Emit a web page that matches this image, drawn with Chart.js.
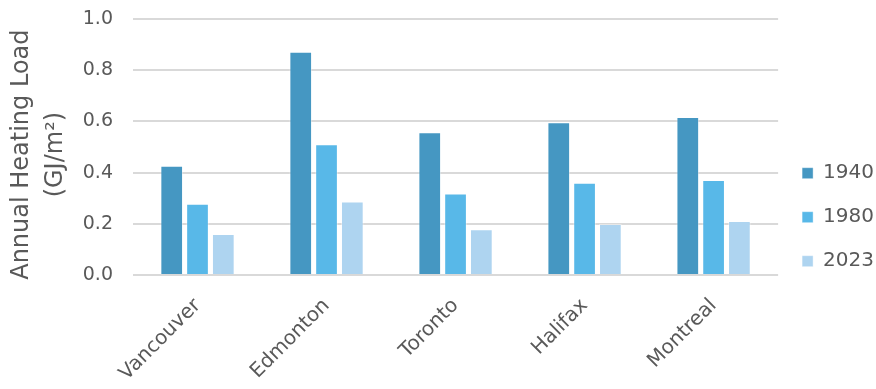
<!DOCTYPE html>
<html>
<head>
<meta charset="utf-8">
<script src="https://cdn.jsdelivr.net/npm/chart.js@4"></script>
<style>
  html, body { margin: 0; padding: 0; background: #fff; }
  #wrap { width: 876px; height: 389px; position: relative; }
</style>
</head>
<body>
<div id="wrap"><canvas id="c" width="876" height="389"></canvas></div>
<script>
const cities = ['Vancouver', 'Edmonton', 'Toronto', 'Halifax', 'Montreal'];
const years = ['1940', '1980', '2023'];
const load1940 = [0.427, 0.872, 0.558, 0.597, 0.617];
const load1980 = [0.278, 0.511, 0.318, 0.360, 0.371];
const load2023 = [0.160, 0.287, 0.179, 0.199, 0.211];
const yTicks = [0.0, 0.2, 0.4, 0.6, 0.8, 1.0];
const yTitle = ['Annual Heating Load', '(GJ/m²)'];

const colors = ['#4597C2', '#58B8E8', '#AED4F0'];
const textGray = '#595959';
const fontFam = '"DejaVu Sans", sans-serif';

Chart.defaults.font.family = fontFam;
Chart.defaults.color = textGray;

function noPad(s) {
  s.paddingTop = 0; s.paddingBottom = 0; s.paddingLeft = 0; s.paddingRight = 0;
}

new Chart(document.getElementById('c'), {
  type: 'bar',
  data: {
    labels: cities,
    datasets: [load1940, load1980, load2023].map((d, i) => ({
      label: years[i],
      data: d,
      backgroundColor: colors[i],
      borderColor: 'rgba(255,255,255,0.4)',
      borderWidth: 1,
      categoryPercentage: 0.6,
      barPercentage: 0.88
    }))
  },
  options: {
    responsive: false,
    animation: false,
    layout: { padding: { top: 19, right: -8, left: 5, bottom: 0 } },
    plugins: {
      tooltip: { enabled: false },
      legend: {
        position: 'right',
        align: 'center',
        title: { display: true, text: '', padding: { top: 12, bottom: 0 }, font: { size: 12 } },
        labels: {
          boxWidth: 11,
          boxHeight: 11,
          padding: 24,
          color: textGray,
          font: { size: 20, family: fontFam }
        }
      }
    },
    scales: {
      x: {
        grid: { display: false },
        border: { display: false },
        ticks: {
          minRotation: 45,
          maxRotation: 45,
          color: textGray,
          font: { size: 20, family: fontFam },
          padding: 11
        },
        afterFit: s => { s.height = 114; noPad(s); }
      },
      y: {
        min: 0,
        max: 1.0,
        afterBuildTicks: s => { s.ticks = yTicks.map(v => ({ value: v })); },
        grid: { color: '#d9d9d9', lineWidth: 2, drawTicks: false },
        border: { display: false },
        ticks: {
          color: textGray,
          font: { size: 19, family: fontFam },
          padding: 20,
          callback: v => Number(v).toFixed(1)
        },
        title: {
          display: true,
          text: yTitle.map(t => t + '  '),
          color: textGray,
          font: { size: 24, family: fontFam, lineHeight: 1.42 },
          padding: 0
        },
        afterFit: s => { s.width = 128; noPad(s); }
      }
    }
  }
});
</script>
</body>
</html>
